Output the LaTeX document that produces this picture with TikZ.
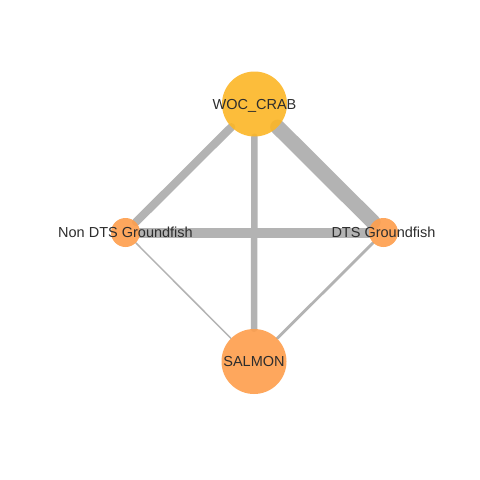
\documentclass[tikz,border=0pt]{standalone}
\usepackage{fontspec}
\setmainfont{Liberation Sans}
\usetikzlibrary{backgrounds}
\definecolor{crabfill}{RGB}{252,182,38}
\definecolor{fishfill}{RGB}{254,158,76}
\definecolor{linkgrey}{RGB}{179,179,179}
\definecolor{labeltext}{RGB}{45,45,45}
\tikzset{
  vertex/.style={circle, draw=none, fill opacity=0.9, inner sep=0pt,
    label={[text=labeltext, text opacity=1, inner sep=0pt, text height=10.4pt, text depth=0pt,
            font=\fontsize{14.5}{17}\selectfont]center:#1}},
  bignode/.style={vertex=#1, minimum size=65pt},
  smallnode/.style={vertex=#1, minimum size=29pt},
  link/.style={draw=linkgrey, line cap=round}
}
\begin{document}
\begin{tikzpicture}[x=1pt, y=-1pt]
  \useasboundingbox (0,0) rectangle (480,480);
  \node[bignode={WOC\_CRAB}, fill=crabfill] (crab) at (254.5,104) {};
  \node[smallnode={Non DTS Groundfish}, fill=fishfill] (nondts) at (125.5,232.5) {};
  \node[smallnode={DTS Groundfish}, fill=fishfill] (dts) at (383.5,232.5) {};
  \node[bignode={SALMON}, fill=fishfill] (salmon) at (254,361.5) {};
  \begin{scope}[on background layer]
    \fill[white] (0,0) rectangle (480,480);
    \draw[link, line width=15pt] (crab) -- (dts);
    \draw[link, line width=10pt] (nondts) -- (dts);
    \draw[link, line width=8pt] (crab) -- (nondts);
    \draw[link, line width=6.5pt] (crab) -- (salmon);
    \draw[link, line width=2.8pt] (dts) -- (salmon);
    \draw[link, line width=1.5pt] (nondts) -- (salmon);
  \end{scope}
\end{tikzpicture}
\end{document}
